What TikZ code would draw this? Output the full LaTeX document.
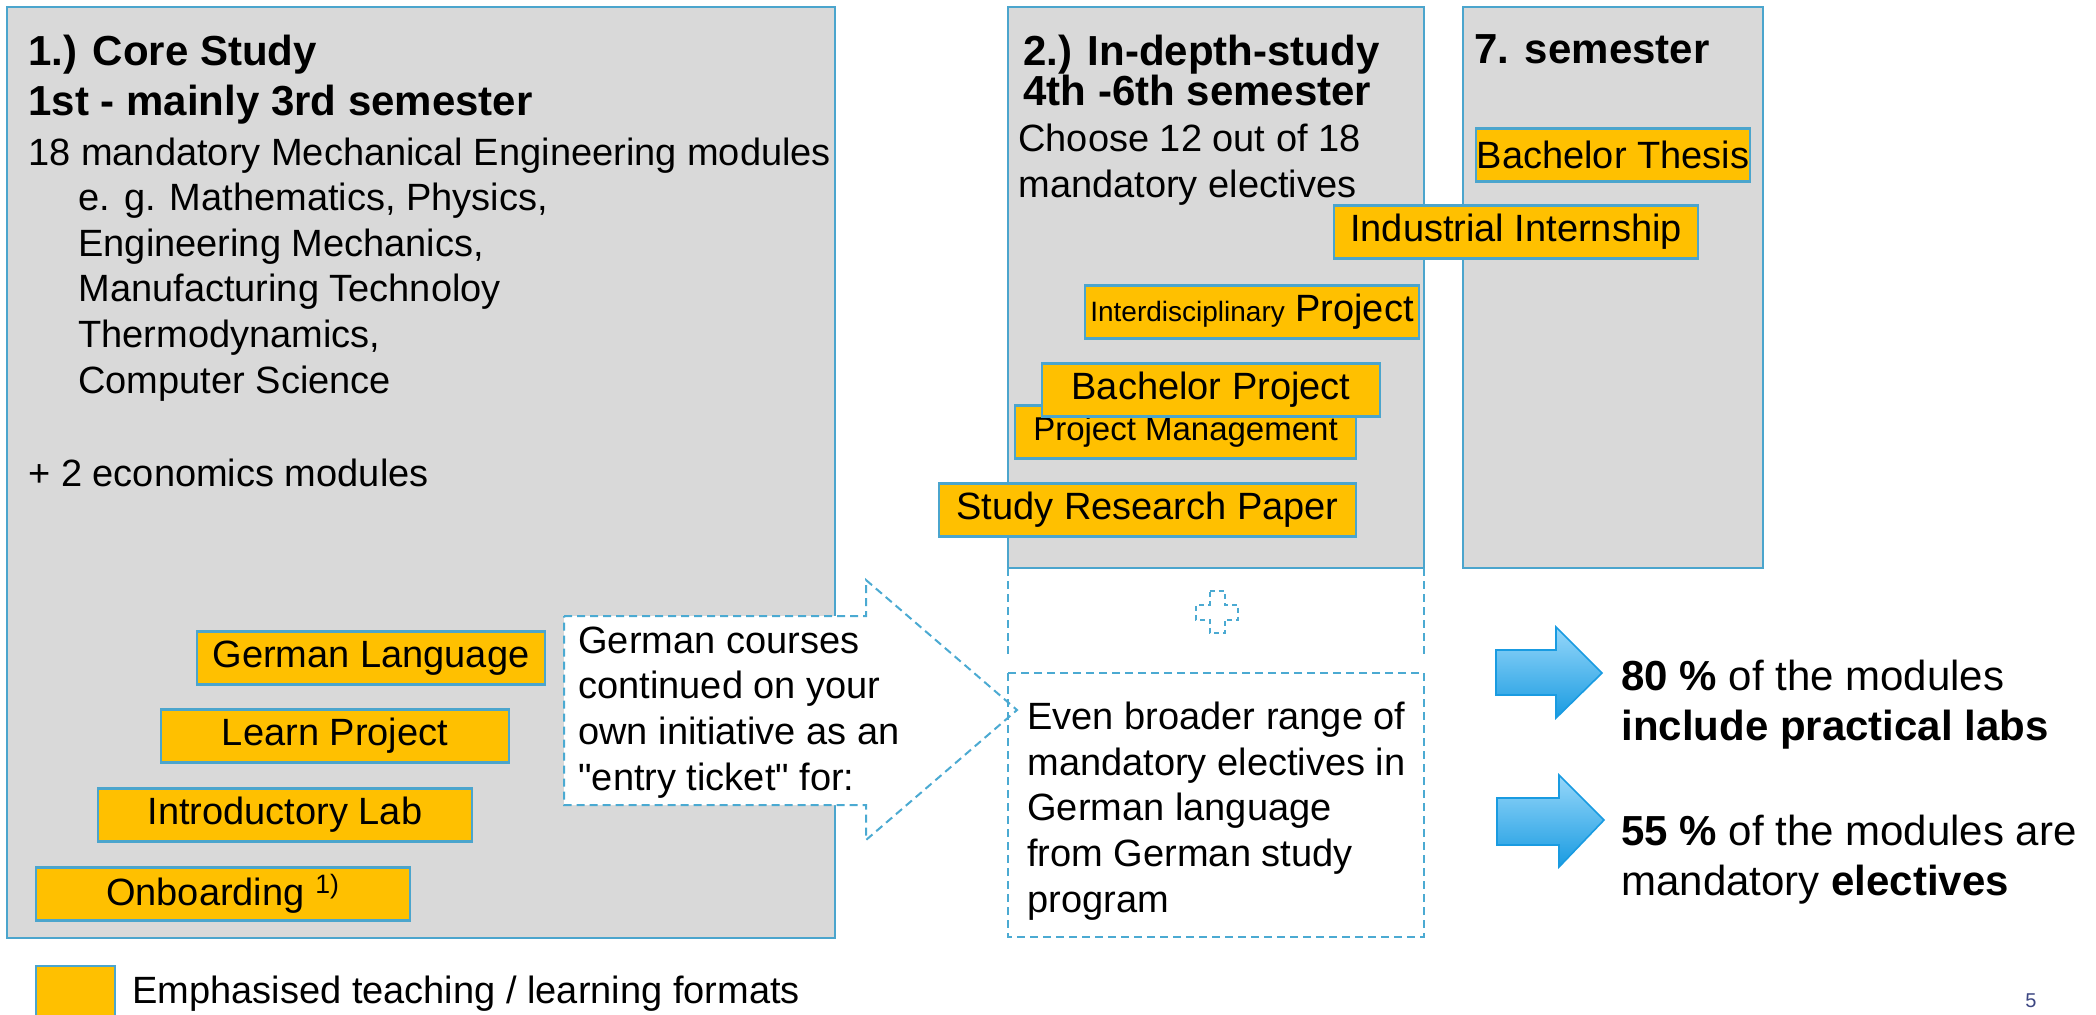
\documentclass[tikz,border=0pt]{standalone}
\usepackage{fontspec}
\setmainfont{Liberation Sans}[Ligatures=TeXOff]
\usepackage{tikz}
\usetikzlibrary{positioning, calc}
\definecolor{fmtyellow}{RGB}{255,192,0}
\definecolor{stagegray}{RGB}{217,217,217}
\definecolor{boxblue}{RGB}{75,165,205}
\definecolor{dashblue}{RGB}{75,170,210}
\definecolor{arrowlight}{RGB}{150,215,250}
\definecolor{arrowdark}{RGB}{25,155,225}
\definecolor{pagenum}{RGB}{60,70,130}
\tikzset{stage/.style={draw=boxblue, fill=stagegray, line width=1.2pt}}
\tikzset{fmt/.style={draw=boxblue, fill=fmtyellow, line width=1.2pt, inner sep=0pt, minimum height=26.5pt, font=\fontsize{19}{22.8}\selectfont}}
\tikzset{dashline/.style={draw=dashblue, line width=1pt, dash pattern=on 4pt off 2.5pt}}
\tikzset{txt/.style={inner sep=0pt, align=left, anchor=base west, font=\fontsize{19}{22.8}\selectfont}}
\tikzset{head/.style={inner sep=0pt, align=left, anchor=base west, font=\fontsize{21}{25}\selectfont\bfseries}}
\tikzset{bigarrow/.style={draw=arrowdark, line width=0.8pt, top color=arrowlight, bottom color=arrowdark}}

\begin{document}
\begin{tikzpicture}[x=0.5pt, y=-0.5pt]
      \useasboundingbox (0,0) rectangle (2096,1014);
      \clip (0,0) rectangle (2096,1014);

      % the three study stages
      \draw[stage] (7,7) rectangle (835,938);
      \draw[stage] (1008,7) rectangle (1424,568);
      \draw[stage] (1463,7) rectangle (1763,568);

      % base of a text block = baseline of its last line
      \node[head] (core) at (28,115) {1.) Core Study\\1st - mainly 3rd semester};
      \node[txt] (coremods) at (28,165) {18 mandatory Mechanical Engineering modules};
      \node[txt] (examples) at (78,393) {e. g. Mathematics, Physics,\\Engineering Mechanics,\\Manufacturing Technoloy\\Thermodynamics,\\Computer Science};
      \node[txt] (econ) at (28,486) {+ 2 economics modules};

      \node[head, font=\fontsize{21}{20}\selectfont\bfseries] (depth) at (1023,105) {2.) In-depth-study\\4th -6th semester};
      \node[txt] (choose) at (1018,197) {Choose 12 out of 18\\mandatory electives};
      \node[head] (sem7) at (1474,63) {7. semester};

      % formats of the core study
      \node[fmt, minimum width=174pt] (german) at (371,658) {German Language};
      \node[fmt, minimum width=174pt] (learn) at (335,736) {Learn Project};
      \node[fmt, minimum width=187pt] (intro) at (285,815) {Introductory Lab};
      \node[fmt, minimum width=187pt] (onboard) at (223,894) {Onboarding \textsuperscript{1)}};

      % formats of the in-depth study
      \node[fmt, minimum width=137pt] (thesis) at (1613,155) {Bachelor Thesis};
      \node[fmt, minimum width=167pt] (interdis) at (1252,312) {{\fontsize{14}{16}\selectfont Interdisciplinary} Project};
      \node[fmt, minimum width=170.5pt, font=\fontsize{16.5}{19}\selectfont] (pm) at (1185.5,432) {Project Management};
      \node[fmt, minimum width=169pt] (bp) at (1211,390) {Bachelor Project};
      \node[fmt, minimum width=208.5pt] (srp) at (1147.5,510) {Study Research Paper};
      \node[fmt, minimum width=182pt] (intern) at (1516,232) {Industrial Internship};

      % callout for the german courses
      \draw[dashline, fill=white] (564,616) -- (866,616) -- (866,580) -- (1017,710)
        -- (866,840) -- (866,805) -- (564,805) -- cycle;
      \node[txt] (ticket) at (578,790) {German courses\\continued on your\\own initiative as an\\"entry ticket" for:};

      \draw[dashline] (1008,568) -- (1008,657);
      \draw[dashline] (1424,568) -- (1424,657);
      \draw[dashline, dash pattern=on 2.5pt off 2pt] (1209.5,591) -- ++(15,0) -- ++(0,13.5) -- ++(13.5,0)
        -- ++(0,15) -- ++(-13.5,0) -- ++(0,13.5) -- ++(-15,0) -- ++(0,-13.5) -- ++(-13.5,0)
        -- ++(0,-15) -- ++(13.5,0) -- cycle;
      \draw[dashline] (1008,673) rectangle (1424,937);
      \node[txt] (broader) at (1027,912) {Even broader range of\\mandatory electives in\\German language\\from German study\\program};

      % key figures
      \draw[bigarrow] (1496,650) -- (1556,650) -- (1556,627) -- (1602,673) -- (1556,718) -- (1556,695) -- (1496,695) -- cycle;
      \draw[bigarrow] (1497,798) -- (1559,798) -- (1559,775) -- (1604,820) -- (1559,867) -- (1559,845) -- (1497,845) -- cycle;
      \node[txt, font=\fontsize{21}{25}\selectfont] (labs) at (1621,740) {\textbf{80 \%} of the modules\\\textbf{include practical labs}};
      \node[txt, font=\fontsize{21}{25}\selectfont] (elect) at (1621,895) {\textbf{55 \%} of the modules are\\mandatory \textbf{electives}};

      % legend
      \node[fmt, minimum width=39.5pt, minimum height=27pt] (legend) at (75.5,993) {};
      \node[txt] (legendtxt) at (132,1003) {Emphasised teaching / learning formats};
      \node[font=\fontsize{10}{12}\selectfont, text=pagenum] (page) at (2031,1001) {5};

    \end{tikzpicture}
\end{document}
